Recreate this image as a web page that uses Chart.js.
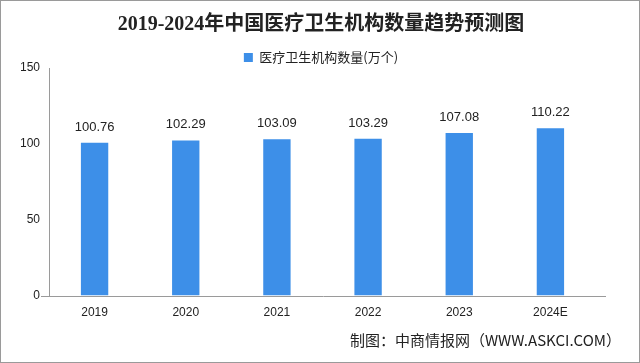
<!DOCTYPE html>
<html><head><meta charset="utf-8">
<script src="https://cdn.jsdelivr.net/npm/chart.js@4/dist/chart.umd.min.js"></script>
<style>
html,body{margin:0;padding:0;background:#fff;}
#wrap{position:relative;width:640px;height:363px;box-sizing:border-box;border:1px solid #9a9a9a;}
canvas{position:absolute;left:0;top:0;}
</style></head>
<body><div id="wrap"><canvas id="c" width="640" height="363"></canvas></div>
<script>
const categories = ["2019","2020","2021","2022","2023","2024E"];
const seriesName = "医疗卫生机构数量(万个)";
const values = [100.76, 102.29, 103.09, 103.29, 107.08, 110.22];
const yTicks = [0, 50, 100, 150];
const titleText = "2019-2024年中国医疗卫生机构数量趋势预测图";
const sourceText = "制图：中商情报网（WWW.ASKCI.COM）";

const labelPlugin = {
  id: 'valueLabels',
  afterLayout(chart) {
    const lg = chart.legend;
    if (lg) { lg.top += 6; lg.bottom += 6; if (lg.legendHitBoxes) lg.legendHitBoxes.forEach(h => h.top += 6); }
  },
  afterDatasetsDraw(chart) {
    const ctx = chart.ctx;
    const meta = chart.getDatasetMeta(0);
    ctx.save();
    ctx.font = '13px "Liberation Sans", "Noto Sans CJK SC", sans-serif';
    ctx.fillStyle = '#222';
    ctx.textAlign = 'center';
    ctx.textBaseline = 'bottom';
    meta.data.forEach((bar, i) => {
      ctx.fillText(values[i].toFixed(2), bar.x, bar.y - 9);
    });
    const y0 = chart.scales.y.getPixelForValue(0);
    ctx.strokeStyle = '#9a9a9a';
    ctx.lineWidth = 1;
    ctx.beginPath();
    ctx.moveTo(chart.chartArea.left - 8, Math.round(y0) + 0.5);
    ctx.lineTo(chart.chartArea.right + 10, Math.round(y0) + 0.5);
    ctx.stroke();
    ctx.restore();
  }
};

new Chart(document.getElementById('c'), {
  type: 'bar',
  data: {
    labels: categories,
    datasets: [{
      label: seriesName,
      data: values,
      backgroundColor: '#3d8fe8',
      borderWidth: 0,
      barPercentage: 0.30,
      categoryPercentage: 1.0
    }]
  },
  options: {
    responsive: false,
    animation: false,
    devicePixelRatio: 1,
    layout: { padding: { left: 20, right: 20, top: 8, bottom: 4 } },
    plugins: {
      title: {
        display: true,
        text: titleText,
        color: '#222',
        font: { family: '"Liberation Serif", "Noto Sans CJK SC", serif', size: 20, weight: 'bold' },
        padding: { top: 4, bottom: 6 }
      },
      legend: {
        display: true,
        position: 'top',
        labels: {
          color: '#222',
          font: { family: '"Noto Sans CJK SC", sans-serif', size: 13 },
          boxWidth: 9, boxHeight: 9,
          padding: 2
        }
      },
      subtitle: {
        display: true,
        text: sourceText,
        position: 'bottom',
        align: 'end',
        color: '#222',
        font: { family: '"Noto Sans CJK SC", sans-serif', size: 15 },
        padding: { top: 1, bottom: 11 }
      },
      tooltip: { enabled: false }
    },
    scales: {
      x: {
        grid: { display: false, drawTicks: false },
        border: { display: false },
        ticks: {
          color: '#222',
          font: { family: '"Liberation Sans", sans-serif', size: 12 },
          padding: 10
        }
      },
      y: {
        min: 0, max: 150,
        afterBuildTicks(scale) { scale.ticks = yTicks.map(v => ({ value: v })); },
        afterFit(scale) { scale.width = 28; },
        grid: { display: false, drawTicks: false },
        border: { display: true, color: '#9a9a9a' },
        ticks: {
          color: '#222',
          font: { family: '"Liberation Sans", sans-serif', size: 12 },
          padding: 9
        }
      },
      yRight: {
        position: 'right',
        display: true,
        min: 0, max: 150,
        afterFit(scale) { scale.width = 25; },
        grid: { display: false, drawTicks: false },
        border: { display: false },
        ticks: { display: false }
      }
    }
  },
  plugins: [labelPlugin]
});
</script></body></html>
